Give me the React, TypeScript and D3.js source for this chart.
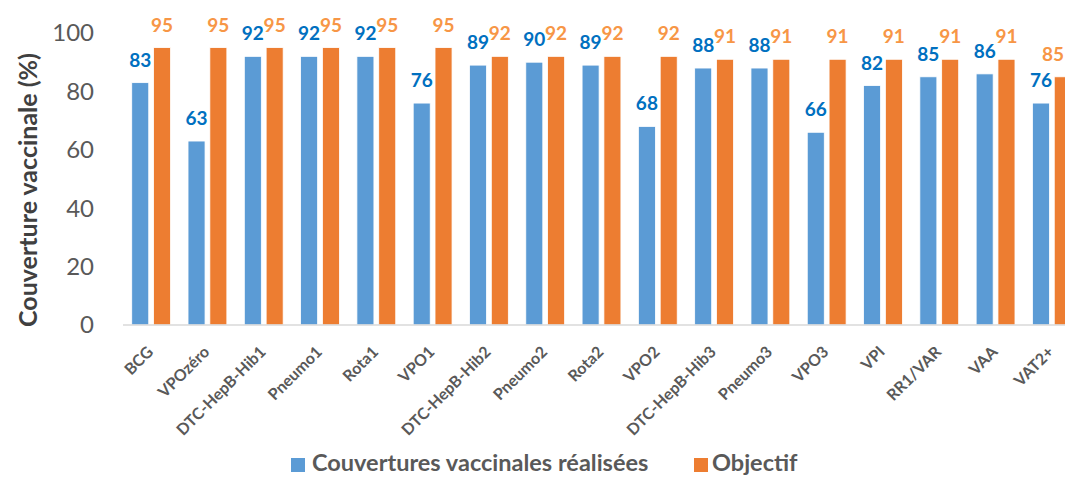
import * as d3 from 'd3';

const categories = ['BCG', 'VPOzéro', 'DTC-HepB-Hib1', 'Pneumo1', 'Rota1', 'VPO1', 'DTC-HepB-Hib2', 'Pneumo2', 'Rota2', 'VPO2', 'DTC-HepB-Hib3', 'Pneumo3', 'VPO3', 'VPI', 'RR1/VAR', 'VAA', 'VAT2+'];
const realisees = [83, 63, 92, 92, 92, 76, 89, 90, 89, 68, 88, 88, 66, 82, 85, 86, 76];
const objectif = [95, 95, 95, 95, 95, 95, 92, 92, 92, 92, 91, 91, 91, 91, 91, 91, 85];
const yTicks = [0, 20, 40, 60, 80, 100];
const seriesNames = ['Couvertures vaccinales réalisées', 'Objectif'];

const W = 1065;
const H = 477;
const FONT = 'Lato, "Open Sans", sans-serif';
const BLUE = '#5B9BD5';
const ORANGE = '#ED7D31';
const BLUE_TXT = '#0070C0';
const ORANGE_TXT = '#F79646';
const GRAY = '#595959';

export default function App() {
  // plot area; right side is cut off like in the original picture
  const margin = { left: 123, right: -15, top: 33, bottom: 152 };
  const x = d3.scaleBand().domain(categories).range([margin.left, W - margin.right]).padding(0);
  const inner = d3.scaleBand().domain(['a', 'b']).range([0, x.bandwidth()]).paddingInner(0.22).paddingOuter(0.4);
  const y = d3.scaleLinear().domain([0, 100]).range([H - margin.bottom, margin.top]);

  const series = [
    { key: 'a', values: realisees, fill: BLUE, text: BLUE_TXT },
    { key: 'b', values: objectif, fill: ORANGE, text: ORANGE_TXT },
  ];

  return (
    <svg width={W} height={H} style={{ position: 'absolute', left: 0, top: 0, background: '#fff' }} fontFamily={FONT}>
      {/* y axis tick labels */}
      {yTicks.map(t => (
        <text key={t} x={94} y={y(t)} dy="0.35em" textAnchor="end" fill={GRAY} fontSize={24}>{t}</text>
      ))}
      <text transform={`translate(37,190) rotate(-90)`} textAnchor="middle" fill="#404040" fontSize={25} fontWeight={700}>
        Couverture vaccinale (%)
      </text>

      {/* bars */}
      {series.map(s => (
        <g key={s.key}>
          {categories.map((c, i) => (
            <rect key={c} x={(x(c) || 0) + (inner(s.key) || 0)} y={y(s.values[i])} width={inner.bandwidth()} height={y(0) - y(s.values[i])}
              fill={s.fill} stroke="#fff" strokeWidth={0.8} />
          ))}
        </g>
      ))}

      {/* baseline */}
      <line x1={margin.left} x2={W} y1={y(0)} y2={y(0)} stroke="#D9D9D9" strokeWidth={1.5} />

      {/* value labels */}
      {series.map(s => (
        <g key={'l' + s.key}>
          {categories.map((c, i) => {
            const lx = Math.min((x(c) || 0) + (inner(s.key) || 0) + inner.bandwidth() / 2, W - 12);
            return (
              <text key={c} x={lx} y={y(s.values[i]) - 16}
                textAnchor="middle" fill={s.text} fontSize={19} fontWeight={700}>{s.values[i]}</text>
            );
          })}
        </g>
      ))}

      {/* category labels */}
      {categories.map(c => {
        const cx = (x(c) || 0) + x.bandwidth() / 2 + 3;
        return (
          <text key={c} transform={`translate(${cx},${y(0) + 28}) rotate(-45)`} textAnchor="end" fill={GRAY} fontSize={16} fontWeight={700}>{c}</text>
        );
      })}

      {/* legend */}
      <rect x={291} y={458} width={14} height={14} fill={BLUE} />
      <text x={312} y={471} fill={GRAY} fontSize={23.5} fontWeight={700}>{seriesNames[0]}</text>
      <rect x={694} y={458} width={14} height={14} fill={ORANGE} />
      <text x={712} y={471} fill={GRAY} fontSize={23.5} fontWeight={700}>{seriesNames[1]}</text>
    </svg>
  );
}
